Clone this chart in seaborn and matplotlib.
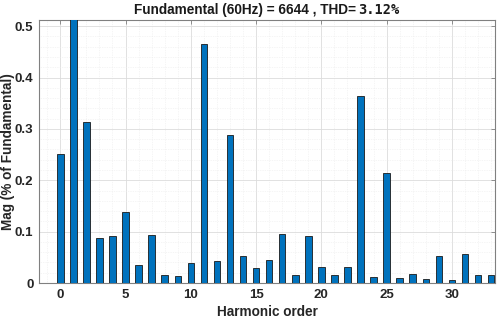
import matplotlib
matplotlib.use("Agg")
import matplotlib.pyplot as plt
import seaborn as sns
import numpy as np
import pandas as pd
from matplotlib.ticker import MultipleLocator, FixedLocator

harmonic = list(range(34))
mag = [0.251, 0.53, 0.313, 0.088, 0.092, 0.139, 0.036, 0.094, 0.015, 0.013,
       0.038, 0.466, 0.043, 0.289, 0.052, 0.029, 0.045, 0.096, 0.016, 0.092,
       0.031, 0.016, 0.032, 0.364, 0.012, 0.214, 0.010, 0.017, 0.008, 0.053,
       0.005, 0.056, 0.016, 0.015]
xticks = [0, 5, 10, 15, 20, 25, 30]
yticks = [0, 0.1, 0.2, 0.3, 0.4, 0.5]
ytick_labels = ["0", "0.1", "0.2", "0.3", "0.4", "0.5"]
title_main = "Fundamental (60Hz) = 6644 , THD="
title_val = "3.12%"
xlabel = "Harmonic order"
ylabel = "Mag (% of Fundamental)"

df = pd.DataFrame({"h": harmonic, "m": mag})

sns.set_style("white")
plt.rcParams["font.family"] = ["Liberation Sans", "DejaVu Sans"]

fig = plt.figure(figsize=(4.98, 3.2), dpi=100)
ax = fig.add_axes([39/498, 1-283/320, (495-39)/498, (283-20)/320])

sns.barplot(data=df, x="h", y="m", color="#0072BD", width=0.5,
            edgecolor="#1a1a1a", linewidth=0.6, ax=ax, saturation=1, zorder=3)

ax.set_xlim(-1.63, 33.3)
ax.set_ylim(0, 0.512)
ax.xaxis.set_major_locator(FixedLocator(xticks))
ax.set_xticklabels([str(t) for t in xticks])
ax.xaxis.set_minor_locator(MultipleLocator(1))
ax.set_yticks(yticks)
ax.set_yticklabels(ytick_labels)
ax.yaxis.set_minor_locator(MultipleLocator(0.02))

ax.grid(which="major", color="#dcdcdc", linewidth=0.6, zorder=0)
ax.grid(which="minor", color="#ececec", linewidth=0.5, linestyle=(0, (1, 1.5)), zorder=0)
ax.set_axisbelow(True)

for s in ax.spines.values():
    s.set_visible(True)
    s.set_color("#808080")
    s.set_linewidth(0.8)

ax.tick_params(which="major", direction="in", length=3, width=0.6, color="#808080",
               top=True, right=True, labelsize=9.5, labelcolor="#262626", pad=4)
ax.tick_params(which="minor", length=0)
for lbl in ax.get_xticklabels() + ax.get_yticklabels():
    lbl.set_fontweight("bold")

ax.set_xlabel(xlabel, fontsize=9.8, fontweight="bold", color="#262626", labelpad=3)
ax.set_ylabel(ylabel, fontsize=9.8, fontweight="bold", color="#262626")
ax.yaxis.set_label_coords(-24/456, 0.5)

fig.text(356/498, 1-10/320, title_main, ha="right", va="center", fontsize=9.8,
         fontweight="bold", color="#1a1a1a")
fig.text(358/498, 1-10/320, title_val, ha="left", va="center", fontsize=9.8,
         fontweight="bold", color="#1a1a1a", family=["DejaVu Sans Mono"])

fig.savefig("out.png", dpi=100)
